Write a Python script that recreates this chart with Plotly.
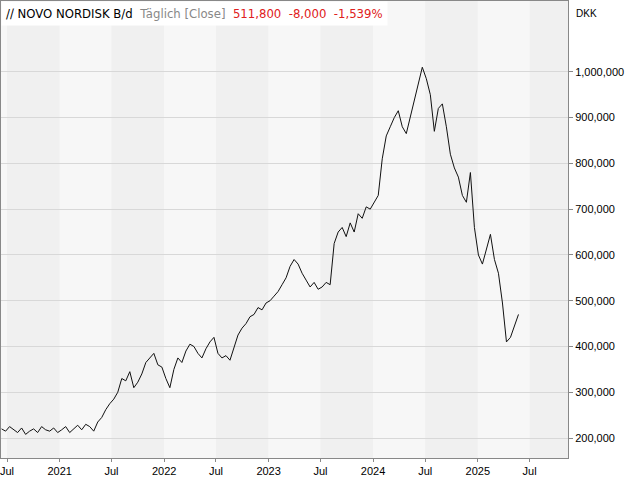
import pandas as pd
import plotly.graph_objects as go

# biweekly closes in thousand DKK, starting 2020-06-12
start = "2020-06-12"
closes = [
    220, 215, 225, 218, 212, 222, 208, 215, 220, 212, 225, 218, 215, 222, 212,
    218, 225, 212, 220, 228, 218, 230, 225, 215, 235, 245, 262, 275, 285, 300,
    330, 325, 345, 310, 322, 340, 365, 375, 385, 360, 355,
    330, 310, 350, 375, 365, 390, 405, 400, 385, 375, 395, 410, 420, 385, 375,
    380, 370, 395, 425, 440, 450, 465, 470, 485, 480, 495,
    500, 510, 520, 535, 550, 575, 590, 580, 560, 545, 530, 540, 525, 530, 540,
    535, 625, 650, 660, 640, 670, 650, 690, 680, 705, 700,
    715, 730, 810, 860, 880, 900, 915, 880, 865, 900, 935, 975, 1010, 985, 950,
    870, 920, 930, 880, 820, 790, 770, 730, 715, 780, 660,
    600, 580, 610, 645, 590, 560, 495, 410, 420, 445, 470,
]
y_ticks = [200000, 300000, 400000, 500000, 600000, 700000, 800000, 900000, 1000000]
x_ticks = ["2020-07-01", "2021-01-01", "2021-07-01", "2022-01-01", "2022-07-01",
           "2023-01-01", "2023-07-01", "2024-01-01", "2024-07-01", "2025-01-01", "2025-07-01"]
x_labels = ["Jul", "2021", "Jul", "2022", "Jul", "2023", "Jul", "2024", "Jul", "2025", "Jul"]

dates = pd.date_range(start, periods=len(closes), freq="14D")
values = [c * 1000 for c in closes]

fig = go.Figure()
fig.add_trace(go.Scatter(x=dates, y=values, mode="lines",
                         line=dict(color="#111", width=1), showlegend=False))

# half-year background bands
bounds = ["2020-06-10"] + x_ticks + ["2025-11-12"]
shapes = []
for a, b in zip(bounds[:-1], bounds[1:]):
    col = "#f0f0f0" if a[5:7] == "07" else "#f7f7f7"
    shapes.append(dict(type="rect", xref="x", yref="paper", x0=a, x1=b, y0=0, y1=1,
                       fillcolor=col, line_width=0, layer="below"))

fig.update_layout(
    width=640, height=480,
    margin=dict(l=1, r=72, t=1, b=22, autoexpand=False),
    paper_bgcolor="white", plot_bgcolor="#f7f7f7",
    font=dict(family="Liberation Sans", size=11, color="#000"),
    shapes=shapes,
    annotations=[
        dict(xref="paper", yref="paper", x=0.0, y=1.0, xanchor="left", yanchor="top",
             showarrow=False, bgcolor="white", borderpad=4,
             text="<span style='color:#000'>/\u2215 NOVO NORDISK B/d</span>  "
                  "<span style='color:#888'>Täglich [Close]</span>  "
                  "<span style='color:#e02020'>511,800  -8,000  -1,539%</span>",
             font=dict(size=13, family="DejaVu Sans Condensed")),
        dict(xref="paper", yref="paper", x=1.01, y=0.99, xanchor="left", yanchor="top",
             showarrow=False, text="DKK", font=dict(size=10)),
    ],
)
fig.update_xaxes(range=["2020-06-10", "2025-11-12"], tickvals=x_ticks, ticktext=x_labels,
                 ticks="outside", ticklen=3, tickcolor="#888", showgrid=False,
                 showline=True, linecolor="#888", mirror=True, tickangle=0, automargin=False,
                 ticklabeloverflow="allow")
fig.update_yaxes(side="right", range=[156400, 1154700], tickvals=y_ticks, tickformat=",d",
                 ticks="outside", ticklen=4, tickcolor="#888", gridcolor="#d8d8d8",
                 showline=True, linecolor="#888", mirror=True, zeroline=False, automargin=False)

fig.write_html("out.html", config={"displayModeBar": False},
               post_script="document.body.style.margin='0';")
